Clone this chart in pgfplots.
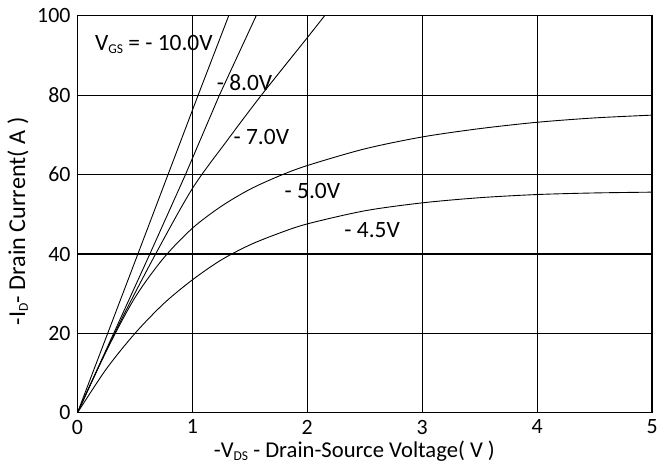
\documentclass[border=0pt]{standalone}
\usepackage{fontspec}
\setmainfont{Carlito}
\usepackage{pgfplots}
\pgfplotsset{compat=1.18}

\newcommand{\sub}[1]{\raisebox{-0.25ex}{\fontsize{6.8}{7}\selectfont #1}}

\begin{document}
\begin{tikzpicture}
\begin{axis}[
    name=ax,
    width=289.5pt, height=200pt, scale only axis,
    xmin=0, xmax=5, ymin=0, ymax=100,
    xtick={0,1,2,3,4,5},
    ytick={0,20,40,60,80,100},
    grid=major,
    major grid style={black, line width=0.6pt},
    axis line style={black, line width=0.6pt},
    major tick length=0pt,
    tick label style={font=\fontsize{11}{12}\selectfont},
    /pgf/number format/assume math mode=true,
    xlabel={-V\sub{DS} - Drain-Source Voltage( V )},
    ylabel={-I\sub{D}- Drain Current( A )},
    xlabel style={font=\fontsize{11.4}{12}\selectfont, at={(axis description cs:0.482,-0.0975)}, anchor=center},
    ylabel style={font=\fontsize{12.2}{13}\selectfont, at={(axis description cs:-0.1036,0.4825)}, anchor=center},
    clip=true,
]
% VGS = -10 V
\addplot[black, line width=0.45pt] coordinates {(0,0) (0.526,40) (1.05,80) (1.316,100)};
% VGS = -8 V
\addplot[black, line width=0.45pt] coordinates {(0,0) (0.63,40) (0.94,60) (1.235,80) (1.555,100)};
% VGS = -7 V
\addplot[black, line width=0.45pt, smooth] coordinates {(0,0) (0.2,12.5) (0.4,24.5) (0.68,40) (1.0,56.5) (1.3,68.5) (1.6,80) (2.0,94.5) (2.15,100)};
% VGS = -5 V
\addplot[black, line width=0.45pt, smooth] coordinates {(0,0) (0.25,15.5) (0.5,29) (0.75,39) (1.0,46.5) (1.25,52) (1.5,56.3) (1.75,59.6) (2.0,62.3) (2.5,66.5) (3.0,69.5) (3.5,71.6) (4.0,73.2) (4.5,74.3) (5.0,75)};
% VGS = -4.5 V
\addplot[black, line width=0.45pt, smooth] coordinates {(0,0) (0.25,11) (0.5,20) (0.75,27.5) (1.0,33.5) (1.25,38.5) (1.5,42.3) (1.75,45.2) (2.0,47.6) (2.5,50.9) (3.0,52.9) (3.5,54.2) (4.0,55.0) (4.5,55.4) (5.0,55.6)};

\node[anchor=west, inner sep=0pt, font=\fontsize{11.8}{13}\selectfont] at (axis cs:0.15,92.75) {V\sub{GS} = - 10.0V};
\node[anchor=west, inner sep=0pt, font=\fontsize{11.8}{13}\selectfont] at (axis cs:1.21,83.3) {- 8.0V};
\node[anchor=west, inner sep=0pt, font=\fontsize{11.8}{13}\selectfont] at (axis cs:1.356,69.5) {- 7.0V};
\node[anchor=west, inner sep=0pt, font=\fontsize{11.8}{13}\selectfont] at (axis cs:1.80,56) {- 5.0V};
\node[anchor=west, inner sep=0pt, font=\fontsize{11.8}{13}\selectfont] at (axis cs:2.32,46) {- 4.5V};
\end{axis}
\pgfresetboundingbox
\path[use as bounding box] ([shift={(-39pt,-26pt)}]ax.south west) rectangle ([shift={(3.5pt,8pt)}]ax.north east);
\end{tikzpicture}
\end{document}
